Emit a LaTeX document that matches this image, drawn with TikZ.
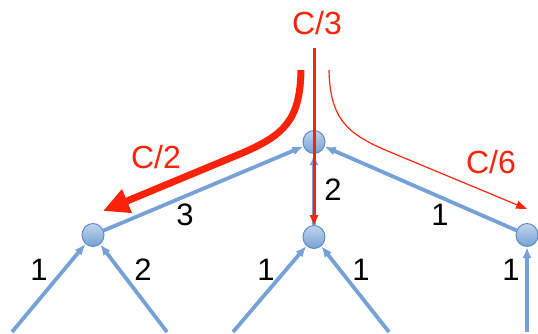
\documentclass[tikz,border=0pt]{standalone}
\usepackage{fontspec}
\setmainfont{Liberation Sans}
\usetikzlibrary{arrows.meta,shapes.geometric}
\definecolor{treeblue}{RGB}{118,161,214}
\definecolor{rimblue}{RGB}{92,138,200}
\definecolor{flowred}{RGB}{250,35,10}

\begin{document}
\begin{tikzpicture}[
    x=1pt,
    y=-1pt,
    vertex/.style={
        ellipse,
        draw=rimblue,
        line width=1pt,
        top color=treeblue!45!white,
        bottom color=treeblue,
        minimum width=22pt,
        minimum height=23pt,
        inner sep=0pt
    },
    weight/.style={
        inner sep=0pt,
        font=\fontsize{31}{33}\selectfont
    },
    share/.style={
        inner sep=0pt,
        text=flowred,
        font=\fontsize{32}{34}\selectfont
    },
    link/.style={-{Latex[length=11pt,width=9pt]}, treeblue, line width=3.8pt},
    bigflow/.style={-{Triangle[length=26pt,width=24pt]}, flowred, line width=7pt},
    midflow/.style={-{Triangle[length=10pt,width=8pt]}, flowred, line width=3pt},
    smallflow/.style={-{Triangle[length=11pt,width=8pt]}, flowred, line width=1.2pt}
]
\useasboundingbox (0,0) rectangle (538,334);

\node[vertex] (top) at (314,142) {};
\node[vertex] (left) at (93,235) {};
\node[vertex] (mid) at (314,237) {};
\node[vertex] (right) at (527,235) {};

\coordinate (leafa) at (12,332);
\coordinate (leafb) at (167,332);
\coordinate (leafc) at (233,332);
\coordinate (leafd) at (389,332);
\coordinate (leafe) at (527,332);

\coordinate (srcl) at (301,70);
\coordinate (srcm) at (314,48);
\coordinate (srcr) at (329,70);
\coordinate (tipl) at (103,211);
\coordinate (tipr) at (527,209);

% blue tree
\draw[link] (leafa) -- (left);
\draw[link] (leafb) -- (left);
\draw[link] (leafc) -- (mid);
\draw[link] (leafd) -- (mid);
\draw[link] (leafe) -- (right);
\draw[link] (left) -- (top);
\draw[link] (mid) -- (top);
\draw[link] (right) -- (top);

% red shares
\draw[bigflow] (srcl) .. controls (300,120) and (285,135) .. (240,154) -- (tipl);
\draw[smallflow] (srcr) .. controls (330,120) and (348,134.5) .. (390,152) -- (tipr);
\draw[midflow] (srcm) -- (mid);

\node[share] (cthird) at (317,23) {C/3};
\node[share] (chalf) at (156,157) {C/2};
\node[share] (csixth) at (491,162) {C/6};

\node[weight] (wlt) at (185,215) {3};
\node[weight] (wmt) at (333,190) {2};
\node[weight] (wrt) at (440,215) {1};
\node[weight] (wla) at (39,270) {1};
\node[weight] (wlb) at (143,270) {2};
\node[weight] (wmc) at (266,270) {1};
\node[weight] (wmd) at (361,270) {1};
\node[weight] (wre) at (511,270) {1};

\end{tikzpicture}
\end{document}
